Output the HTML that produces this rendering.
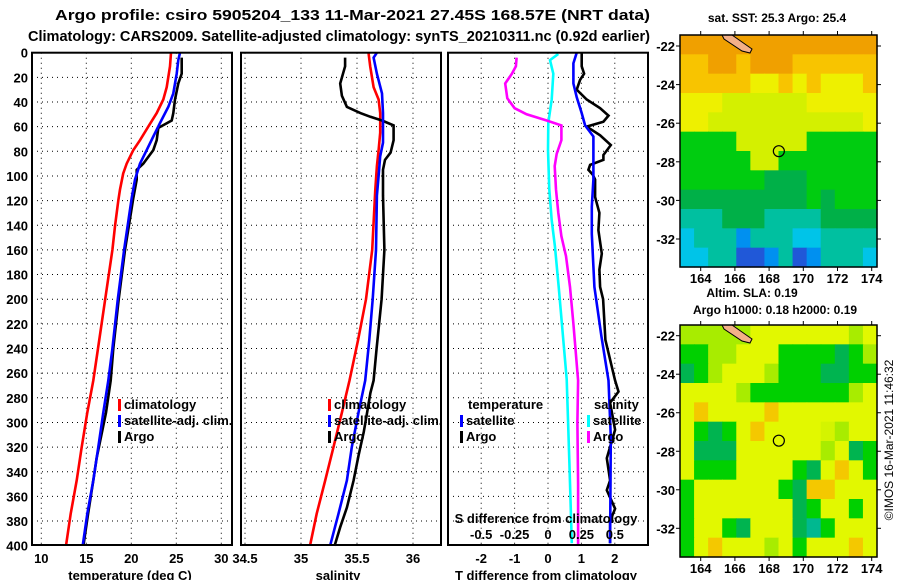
<!DOCTYPE html>
<html><head><meta charset="utf-8"><style>
body{margin:0;background:#fff;}
svg{display:block;font-family:"Liberation Sans",Arial,sans-serif;font-weight:bold;}
</style></head><body>
<svg id="c" width="900" height="580" viewBox="0 0 900 580">
<text x="55" y="20" font-size="14.5" text-anchor="start" textLength="595" lengthAdjust="spacingAndGlyphs">Argo profile: csiro 5905204_133 11-Mar-2021 27.45S 168.57E (NRT data)</text>
<text x="28" y="41" font-size="14.5" text-anchor="start" textLength="622" lengthAdjust="spacingAndGlyphs">Climatology: CARS2009. Satellite-adjusted climatology: synTS_20210311.nc (0.92d earlier)</text>
<g id="layer"></g>
</svg>
<script>
const NS='http://www.w3.org/2000/svg';
// ---- data (depth m, value) ----
const tempDepths=[0,11,28,38,49,60,71,79,90,98,111,120,140,160,200,240,266,292,320,347,374,400];
const tempClim=[24.41,24.3,23.93,23.56,22.82,21.89,20.97,20.22,19.49,19.1,18.74,18.56,18.2,17.9,17.1,16.3,15.78,15.11,14.49,13.93,13.27,12.74];
const tempSatDepths=[0,6,17,33,44,57,68,79,90,103,118,160,200,240,266,292,320,347,374,400];
const tempSat=[25.41,25.22,25.04,24.67,24.11,23.19,22.44,21.71,20.97,20.41,20.04,19.2,18.5,17.9,17.44,16.89,16.33,15.78,15.11,14.6];
const tempArgoDepths=[4,17,25,38,49,55,61,71,79,90,95,103,118,160,200,240,266,292,329,347,374,400];
const tempArgo=[25.6,25.6,25.22,24.86,24.67,24.49,23.0,22.82,22.45,21.33,20.6,20.6,20.22,19.3,18.6,18.0,17.71,17.19,16.15,15.78,15.2,14.68];
const salClimDepths=[0,11,28,38,49,65,79,92,111,160,200,233,266,292,320,347,374,400];
const salClim=[35.603,35.618,35.648,35.693,35.707,35.707,35.693,35.678,35.663,35.636,35.58,35.51,35.433,35.365,35.29,35.216,35.14,35.08];
const salSatDepths=[0,4,17,33,49,73,84,100,116,160,200,233,266,292,320,347,374,400];
const salSat=[35.678,35.648,35.678,35.723,35.732,35.732,35.707,35.693,35.678,35.67,35.64,35.61,35.573,35.513,35.454,35.41,35.335,35.26];
const salArgoDepths=[4,11,25,35,44,49,52,55,59,71,81,87,95,116,160,200,240,266,276,292,308,327,347,369,385,400];
const salArgo=[35.394,35.394,35.35,35.365,35.41,35.53,35.62,35.723,35.827,35.827,35.8,35.75,35.732,35.732,35.745,35.72,35.675,35.648,35.62,35.59,35.56,35.513,35.47,35.41,35.35,35.3];
const tdSatDepths=[0,8.6,25,36,49,59,68,103,125,147,190,230,266,312,398];
const tdSat=[0.86,0.76,0.76,0.86,1.01,1.11,1.36,1.36,1.31,1.31,1.39,1.6,1.81,1.88,1.86];
const tdArgoDepths=[0,11,17,22,30,38,45,51,56,60,67,75,83,87,91,95,99,103,117,130,144,163,176,190,200,233,266,275,284,306,329,347,355,370,380,398];
const tdArgo=[1.01,1.01,1.08,0.96,0.86,1.16,1.56,1.81,1.66,1.16,1.56,1.88,1.66,1.66,1.26,1.21,1.34,1.41,1.41,1.54,1.51,1.61,1.54,1.56,1.65,1.72,2.01,2.11,1.86,2.01,1.76,1.86,1.76,2.01,1.86,1.86];
const sdSatDepths=[1,6,17,38,57,79,111,136,157,190,265,333,398];
const sdSat=[0.077,0.015,0.04,0.028,0.002,0.0,0.01,0.028,0.052,0.08,0.14,0.16,0.178];
const sdArgoDepths=[4,11,17,25,37,45,50,55,59,71,82,92,111,130,149,165,190,220,266,300,350,400];
const sdArgo=[-0.235,-0.24,-0.27,-0.32,-0.305,-0.25,-0.16,-0.01,0.10,0.10,0.065,0.05,0.06,0.077,0.10,0.135,0.165,0.19,0.225,0.22,0.225,0.225];
const depthTicks=[0,20,40,60,80,100,120,140,160,180,200,220,240,260,280,300,320,340,360,380,400];
const tempTicks=[10,15,20,25,30];
const salTicks=[34.5,35,35.5,36];
const tdTicks=[-2,-1,0,1,2];
const sdTicks=[-0.5,-0.25,0,0.25,0.5];
const sdTickLabels=['-0.5','-0.25','0','0.25','0.5'];
const lonTicks=[164,166,168,170,172,174];
const latTicks=[-22,-24,-26,-28,-30,-32];

// ---- axes ----
const yD=d=>52.7+d*1.2325;
const xT=t=>41.3+(t-10)*9;
const xS=s=>301+(s-35)*112;
const xTd=v=>548+v*33.4;
const xSd=v=>548+v*133.6;

const L=document.getElementById('layer');
function mk(tag,attrs,parent){const e=document.createElementNS(NS,tag);for(const k in attrs)e.setAttribute(k,attrs[k]);(parent||L).appendChild(e);return e;}
function txt(x,y,s,size,anchor,parent){const t=mk('text',{x:x,y:y,'font-size':size,'text-anchor':anchor||'middle'},parent);t.textContent=s;return t;}

const panels=[{x0:32,x1:232,name:'temperature-panel'},{x0:241,x1:441,name:'salinity-panel'},{x0:448,x1:648,name:'difference-panel'}];
const yTop=52.7,yBot=545;
panels.forEach(p=>{
  const g=mk('g',{});
  
  
  p.g=g;
  depthTicks.forEach(d=>{if(d>0&&d<400){const l=mk('line',{x1:p.x0,x2:p.x1,y1:yD(d),y2:yD(d),stroke:'#000','stroke-width':1,'stroke-dasharray':'1 4'},g);
    }});
});
function vgrid(p,xs){xs.forEach(x=>{const l=mk('line',{x1:x,x2:x,y1:yTop,y2:yBot,stroke:'#000','stroke-width':1,'stroke-dasharray':'1 4'},p.g);});}
vgrid(panels[0],tempTicks.map(xT));
vgrid(panels[1],salTicks.map(xS));
vgrid(panels[2],tdTicks.map(xTd));

depthTicks.forEach(d=>{const t=txt(28,yD(d)+5,String(d),13,'end');});
tempTicks.forEach(v=>{const t=txt(xT(v),563,String(v),13);});
salTicks.forEach(v=>{const t=txt(xS(v),563,String(v),13);});
tdTicks.forEach(v=>{const t=txt(xTd(v),563,String(v),13);});
sdTicks.forEach((v,i)=>{const t=txt(xSd(v),539,sdTickLabels[i],13);});
let t;
t=txt(130,580,'temperature (deg C)',13);
t=txt(338,580,'salinity',13);
t=txt(546,580,'T difference from climatology',13);
t=txt(546,523,'S difference from climatology',13);

function series(depths,vals,xf,color,name,g){
  const pts=depths.map((d,i)=>xf(vals[i]).toFixed(1)+','+yD(d).toFixed(1)).join(' ');
  const pl=mk('polyline',{points:pts,fill:'none',stroke:color,'stroke-width':2.6,'stroke-linejoin':'miter'},g);
  
  
}
series(tempDepths,tempClim,xT,'#ff0000','temperature-climatology-line',panels[0].g);
series(tempArgoDepths,tempArgo,xT,'#000000','temperature-argo-line',panels[0].g);
series(tempSatDepths,tempSat,xT,'#0000ff','temperature-satellite-line',panels[0].g);
series(salClimDepths,salClim,xS,'#ff0000','salinity-climatology-line',panels[1].g);
series(salArgoDepths,salArgo,xS,'#000000','salinity-argo-line',panels[1].g);
series(salSatDepths,salSat,xS,'#0000ff','salinity-satellite-line',panels[1].g);
series(sdSatDepths,sdSat,xSd,'#00ffff','s-diff-satellite-line',panels[2].g);
series(sdArgoDepths,sdArgo,xSd,'#ff00ff','s-diff-argo-line',panels[2].g);
series(tdArgoDepths,tdArgo,xTd,'#000000','t-diff-argo-line',panels[2].g);
series(tdSatDepths,tdSat,xTd,'#0000ff','t-diff-satellite-line',panels[2].g);

panels.forEach(p=>{const r=mk('rect',{x:p.x0,y:yTop,width:p.x1-p.x0,height:yBot-yTop,fill:'none',stroke:'#000','stroke-width':2},p.g);});

function legEntry(x,y,color,label,name){
  const g=mk('g',{});
  
  
  mk('rect',{x:x,y:y-10,width:3,height:12,fill:color},g);
  txt(x+6,y,label,13,'start',g);
}
legEntry(118,409,'#ff0000','climatology','legend-entry-climatology');
legEntry(118,425,'#0000ff','satellite-adj. clim.','legend-entry-satellite-adj');
legEntry(118,441,'#000000','Argo','legend-entry-argo');
legEntry(328,409,'#ff0000','climatology','legend-entry-climatology-sal');
legEntry(328,425,'#0000ff','satellite-adj. clim.','legend-entry-satellite-adj-sal');
legEntry(328,441,'#000000','Argo','legend-entry-argo-sal');
t=txt(468,409,'temperature',13,'start');
t=txt(594,409,'salinity',13,'start');
legEntry(460,425,'#0000ff','satellite','legend-entry-t-satellite');
legEntry(460,441,'#000000','Argo','legend-entry-t-argo');
legEntry(587,425,'#00ffff','satellite','legend-entry-s-satellite');
legEntry(587,441,'#ff00ff','Argo','legend-entry-s-argo');

// ---- maps ----
const pal={O:'#f0a000',o:'#f8c400',Y:'#eef000',y:'#d4f000',L:'#a8ec00',G:'#00cc10',g:'#00b048',T:'#00c0a0',C:'#00c4e8',B:'#0090f0',D:'#2058d8'};
const pal2={O:'#f0a000',o:'#f4c800',Y:'#e2f800',y:'#d4f400',L:'#a8ec00',G:'#00d000',g:'#00b450',T:'#00b890',C:'#00c4e8',B:'#0090f0',D:'#2058d8'};
const map1Rows=['OOOOOOOOOOOOOO','ooOOoOOOoooooo','oooooYYoYoYYYo','YYYyyyyyyYYYYY','YYyyyyyyyyyyyY','GGGGyyyyyGGGGG','GGGGGyyGGGGGGG','GGGGGGgggGGGGG','gggggggggGgGGG','TTTgggTTTTgggg','CTTTBTTTCCTTTT','CCTTDDBTDBTTTC'];
const map2Rows=['LLLLLYYYYYYYLY','GGLLYYYGGGGgGL','gGLYYYLGGGggGG','YYYYLGGGGGGGLY','YoYYYYoYYYYYYY','YGgGYoYYYYyLYY','YgggYYYYYYLYgG','YGGGYYYYGgYoYG','GYYYYYYGgooYYY','GYYYYYYYgGYYGY','GYYGgYYYgTGYYY','GYoYYYLYGYYYoY'];
function drawMap(rows,P,x0,y0,w,h,lat22,lat32,name){
  const g=mk('g',{});
  
  
  const cw=w/14,ch=h/12;
  rows.forEach((r,i)=>{for(let j=0;j<14;j++){mk('rect',{x:(x0+j*cw).toFixed(2),y:(y0+i*ch).toFixed(2),width:(cw+0.6).toFixed(2),height:(ch+0.6).toFixed(2),fill:P[r[j]]},g);}});
  const lonX=v=>700.7+(v-164)*17.1;
  const latY=v=>lat22+(-22-v)*(lat32-lat22)/10;
  const isl=mk('path',{d:`M${x0+42},${y0} L${x0+52},${y0} L${x0+72},${y0+14} L${x0+70},${y0+18} L${x0+62},${y0+16} L${x0+44},${y0+4} Z`,fill:'#f4b088',stroke:'#000','stroke-width':1},g);
  
  const c=mk('circle',{cx:lonX(168.57),cy:latY(-27.45),r:5.5,fill:'none',stroke:'#000','stroke-width':1.2},g);
  
  mk('rect',{x:x0,y:y0,width:w,height:h,fill:'none',stroke:'#000','stroke-width':1.5},g);
  lonTicks.forEach(v=>{mk('line',{x1:lonX(v),x2:lonX(v),y1:y0-4,y2:y0,stroke:'#000'},g);mk('line',{x1:lonX(v),x2:lonX(v),y1:y0+h,y2:y0+h+4,stroke:'#000'},g);
    const tl=txt(lonX(v),y0+h+16,String(v),13,'middle',g);});
  latTicks.forEach(v=>{mk('line',{x1:x0-4,x2:x0,y1:latY(v),y2:latY(v),stroke:'#000'},g);mk('line',{x1:x0+w,x2:x0+w+4,y1:latY(v),y2:latY(v),stroke:'#000'},g);
    const tl=txt(675,latY(v)+5,String(v),13,'end',g);});
}
drawMap(map1Rows,pal,680,35,197,232,46,239,'sst-map');
drawMap(map2Rows,pal2,680,325,197,232,335.7,528.3,'sla-map');
t=txt(777,22,'sat. SST: 25.3 Argo: 25.4',12);
t=txt(752,297,'Altim. SLA: 0.19',12);
t=txt(775,314,'Argo h1000: 0.18 h2000: 0.19',12);
t=mk('text',{x:0,y:0,'font-size':12,'font-weight':'normal','text-anchor':'middle',transform:'translate(893,440) rotate(-90)'});
t.textContent='©IMOS 16-Mar-2021 11:46:32';


</script>
</body></html>
